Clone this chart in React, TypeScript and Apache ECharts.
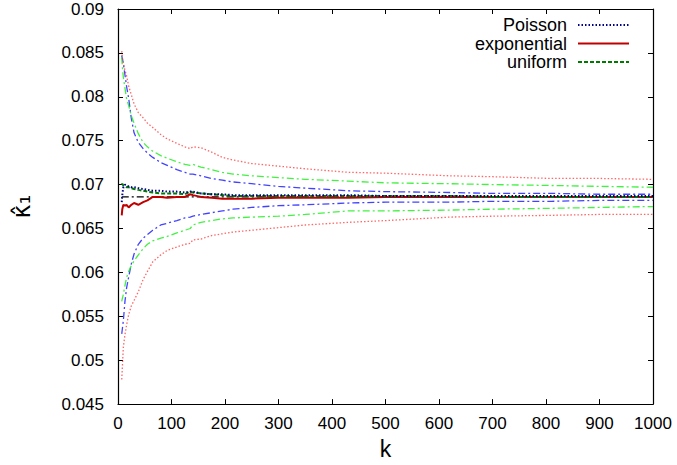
import React, { useEffect, useRef } from "react";
import * as echarts from "echarts";

const kValues = [7, 8, 10, 13, 16, 20, 25, 30, 38, 47, 55, 65, 80, 92, 110, 125, 135, 140, 155, 175, 195, 215, 250, 300, 350, 430, 500, 620, 700, 810, 900, 1000];

const poissonMean = [0.0680, 0.0688, 0.0697, 0.0700, 0.0699, 0.0698, 0.0697, 0.0697, 0.0696, 0.0695, 0.0694, 0.0693, 0.0693, 0.0692, 0.0692, 0.0691, 0.0692, 0.0692, 0.0690, 0.0689, 0.0689, 0.0688, 0.0688, 0.0688, 0.0688, 0.0688, 0.0687, 0.0687, 0.0687, 0.0687, 0.0687, 0.0687];
const exponentialMean = [0.0665, 0.0672, 0.0677, 0.0676, 0.0677, 0.0674, 0.0677, 0.0679, 0.0677, 0.0680, 0.0682, 0.0686, 0.0686, 0.0685, 0.0686, 0.0686, 0.0689, 0.0688, 0.0686, 0.0685, 0.0684, 0.0684, 0.0684, 0.0685, 0.0685, 0.0685, 0.0686, 0.0686, 0.0686, 0.0686, 0.0686, 0.0686];
const uniformMean = [0.0700, 0.0701, 0.0699, 0.0698, 0.0697, 0.0697, 0.0696, 0.0695, 0.0694, 0.0693, 0.0692, 0.0691, 0.0690, 0.0690, 0.0690, 0.0689, 0.0692, 0.0691, 0.0690, 0.0689, 0.0688, 0.0687, 0.0687, 0.0687, 0.0687, 0.0687, 0.0687, 0.0687, 0.0686, 0.0686, 0.0686, 0.0686];

const poissonHigh = [0.0847, 0.0844, 0.0838, 0.0825, 0.0812, 0.0798, 0.0775, 0.0759, 0.0748, 0.0741, 0.0736, 0.0731, 0.0725, 0.0722, 0.0717, 0.0714, 0.0712, 0.0712, 0.0710, 0.0707, 0.0705, 0.0703, 0.0701, 0.0698, 0.0696, 0.0693, 0.0692, 0.0691, 0.0690, 0.0690, 0.0689, 0.0689];
const poissonLow = [0.0530, 0.0535, 0.0545, 0.0567, 0.0582, 0.0595, 0.0610, 0.0621, 0.0632, 0.0639, 0.0643, 0.0648, 0.0654, 0.0656, 0.0659, 0.0662, 0.0663, 0.0664, 0.0666, 0.0668, 0.0670, 0.0672, 0.0674, 0.0676, 0.0677, 0.0679, 0.0680, 0.0680, 0.0681, 0.0681, 0.0682, 0.0682];
const uniformHigh = [0.0845, 0.0835, 0.0822, 0.0810, 0.0798, 0.0790, 0.0778, 0.0770, 0.0758, 0.0748, 0.0743, 0.0738, 0.0733, 0.0730, 0.0726, 0.0723, 0.0722, 0.0723, 0.0720, 0.0717, 0.0714, 0.0712, 0.0710, 0.0708, 0.0706, 0.0704, 0.0702, 0.0701, 0.0700, 0.0699, 0.0698, 0.0697];
const uniformLow = [0.0567, 0.0570, 0.0575, 0.0585, 0.0594, 0.0601, 0.0608, 0.0613, 0.0620, 0.0627, 0.0632, 0.0636, 0.0639, 0.0641, 0.0645, 0.0648, 0.0650, 0.0654, 0.0657, 0.0659, 0.0661, 0.0662, 0.0663, 0.0664, 0.0666, 0.0670, 0.0670, 0.0671, 0.0672, 0.0673, 0.0674, 0.0675];
const exponentialHigh = [0.0852, 0.0845, 0.0838, 0.0830, 0.0824, 0.0812, 0.0802, 0.0792, 0.0782, 0.0776, 0.0770, 0.0765, 0.0757, 0.0752, 0.0747, 0.0743, 0.0741, 0.0743, 0.0742, 0.0737, 0.0731, 0.0728, 0.0724, 0.0721, 0.0718, 0.0714, 0.0713, 0.0710, 0.0709, 0.0707, 0.0707, 0.0706];
const exponentialLow = [0.0478, 0.0490, 0.0515, 0.0529, 0.0540, 0.0552, 0.0562, 0.0568, 0.0578, 0.0592, 0.0601, 0.0612, 0.0620, 0.0625, 0.0629, 0.0632, 0.0633, 0.0637, 0.0638, 0.0642, 0.0644, 0.0646, 0.0648, 0.0651, 0.0654, 0.0657, 0.0659, 0.0663, 0.0664, 0.0665, 0.0666, 0.0666];

const referenceK = [7, 1000];
const referenceValue = [0.0686, 0.0686];

const xTicks = { min: 0, max: 1000, interval: 100 };
const yTicks = { min: 0.045, max: 0.09, interval: 0.005 };

const pair = (ks: number[], vs: number[]) => ks.map((k, i) => [k, vs[i]]);

const FONT = "Liberation Sans";

export default function App() {
  const ref = useRef<HTMLDivElement>(null);
  useEffect(() => {
    if (!ref.current) return;
    const chart = echarts.init(ref.current, null, { renderer: "svg" });
    const band = (name: string, vs: number[], color: string, type: any, opacity: number) => ({
      name,
      type: "line",
      data: pair(kValues, vs),
      symbol: "none",
      silent: true,
      z: 2,
      lineStyle: { color, width: 1.3, type, opacity },
    });
    const axisCommon = {
      axisLine: { show: true, onZero: false, lineStyle: { color: "#000", width: 1.2 } },
      axisTick: { show: true, inside: true, length: 5, lineStyle: { color: "#000" } },
      splitLine: { show: false },
    };
    chart.setOption({
      animation: false,
      backgroundColor: "#fff",
      grid: { left: 118, right: 24, top: 9, bottom: 58.5 },
      legend: {
        data: ["Poisson", "exponential", "uniform"],
        orient: "vertical",
        align: "right",
        right: 42,
        top: 11,
        itemWidth: 51,
        itemHeight: 14,
        itemGap: 0.5,
        itemStyle: { opacity: 0 },
        textStyle: { fontFamily: FONT, fontSize: 18, color: "#000", padding: [0, 6, 0, 0] },
      },
      xAxis: [
        {
          type: "value",
          ...xTicks,
          ...axisCommon,
          name: "k",
          nameLocation: "middle",
          nameGap: 32,
          nameTextStyle: { fontFamily: FONT, fontSize: 23, color: "#000" },
          axisLabel: {
            fontFamily: FONT,
            fontSize: 17,
            color: "#000",
            margin: 11,
            formatter: (v: number) => String(v),
          },
        },
        {
          type: "value",
          position: "top",
          ...xTicks,
          ...axisCommon,
          axisLabel: { show: false },
        },
      ],
      yAxis: [
        {
          type: "value",
          ...yTicks,
          ...axisCommon,
          name: "κ̂₁",
          nameLocation: "middle",
          nameGap: 84,
          nameRotate: 90,
          nameTextStyle: { fontFamily: "DejaVu Sans", fontSize: 24, color: "#000" },
          axisLabel: {
            fontFamily: FONT,
            fontSize: 17,
            color: "#000",
            margin: 14,
            formatter: (v: number) => String(+v.toFixed(3)),
          },
        },
        {
          type: "value",
          position: "right",
          ...yTicks,
          ...axisCommon,
          axisLabel: { show: false },
        },
      ],
      series: [
        band("Poisson band high", poissonHigh, "#2222ff", [7, 3, 2, 3], 0.85),
        band("Poisson band low", poissonLow, "#2222ff", [7, 3, 2, 3], 0.85),
        band("uniform band high", uniformHigh, "#22ee22", [7, 3, 2, 3], 0.85),
        band("uniform band low", uniformLow, "#22ee22", [7, 3, 2, 3], 0.85),
        band("exponential band high", exponentialHigh, "#ff3333", [1.5, 2], 0.75),
        band("exponential band low", exponentialLow, "#ff3333", [1.5, 2], 0.75),
        {
          name: "reference",
          type: "line",
          data: pair(referenceK, referenceValue),
          symbol: "none",
          silent: true,
          z: 3,
          lineStyle: { color: "#000", width: 1.2, type: [7, 3, 2, 3] },
        },
        {
          name: "exponential",
          type: "line",
          data: pair(kValues, exponentialMean),
          symbol: "none",
          z: 4,
          lineStyle: { color: "#c00000", width: 2 },
        },
        {
          name: "uniform",
          type: "line",
          data: pair(kValues, uniformMean),
          symbol: "none",
          z: 5,
          lineStyle: { color: "#007a00", width: 2, type: [4, 2] },
        },
        {
          name: "Poisson",
          type: "line",
          data: pair(kValues, poissonMean),
          symbol: "none",
          z: 6,
          lineStyle: { color: "#00008b", width: 2, type: [1.5, 2] },
        },
      ],
    });
    return () => chart.dispose();
  }, []);
  return <div ref={ref} style={{ width: 677, height: 465, position: "absolute", left: 0, top: 0 }} />;
}
